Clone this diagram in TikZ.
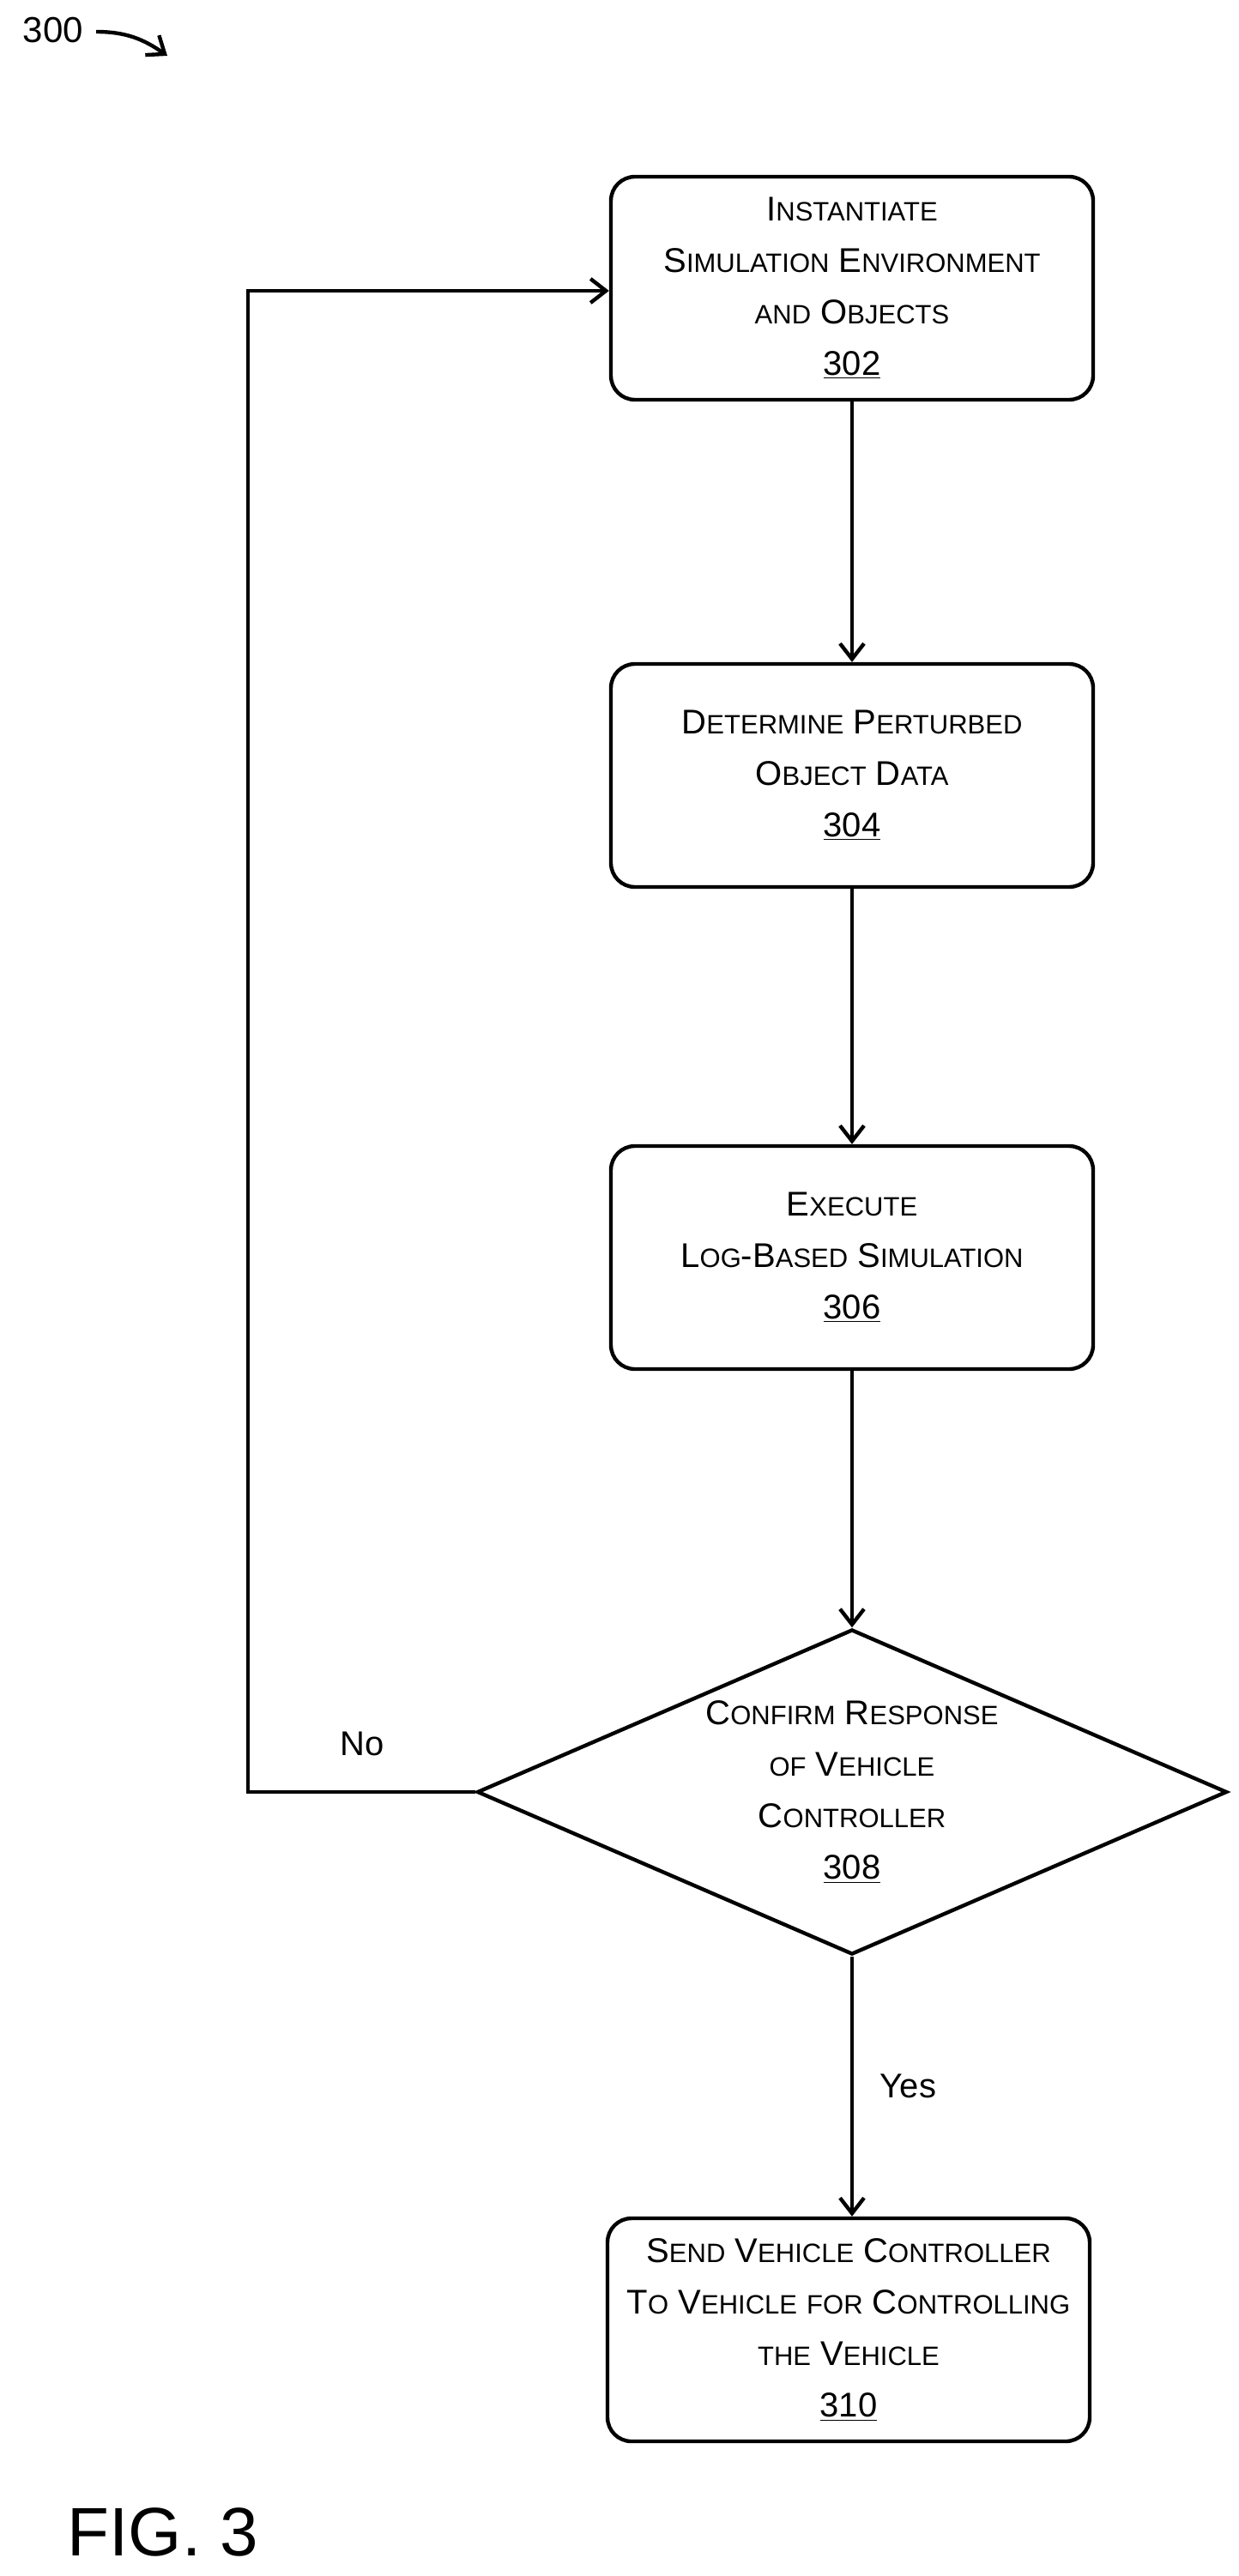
\documentclass[tikz,border=0pt]{standalone}
\usepackage{fontspec}
\setmainfont{Liberation Sans}
\usetikzlibrary{shapes.geometric,arrows.meta}
\newcommand\capw[2]{{\fontsize{20}{30}\selectfont #1}{\fontsize{15.5}{30}\selectfont\MakeUppercase{#2}}}
\tikzset{
  stepbox/.style={draw,line width=2.2pt,rounded corners=14pt,minimum width=281pt,minimum height=130pt,align=center,font=\fontsize{20}{30}\selectfont},
  decide/.style={draw,diamond,line width=2.2pt,minimum width=437pt,minimum height=189.5pt,inner sep=0pt},
  flow/.style={line width=2.2pt,-{Straight Barb[length=9pt,width=14pt]}}
}
\begin{document}
\begin{tikzpicture}[x=1pt,y=-1pt]
\useasboundingbox (0,0) rectangle (722,1501.5);
\node[font=\fontsize{21}{22}\selectfont] (num) at (31,17.5) {300};
\coordinate (numtip) at (97.5,32.5);
\draw[flow] (num.east) ++(4,1) to[out=0,in=145] (numtip);
\node[stepbox] (s302) at (496.5,168) {\capw{I}{nstantiate}\\ \capw{S}{imulation} \capw{E}{nvironment}\\ \capw{}{and} \capw{O}{bjects}\\ \underline{302}};
\node[stepbox] (s304) at (496.5,452) {\capw{D}{etermine} \capw{P}{erturbed}\\ \capw{O}{bject} \capw{D}{ata}\\ \underline{304}};
\node[stepbox] (s306) at (496.5,733) {\capw{E}{xecute}\\ \capw{L}{og}-\capw{B}{ased} \capw{S}{imulation}\\ \underline{306}};
\node[decide] (d308) at (496.5,1044.5) {};
\node[align=center,font=\fontsize{20}{30}\selectfont] (t308) at (d308) {\capw{C}{onfirm} \capw{R}{esponse}\\ \capw{}{of} \capw{V}{ehicle}\\ \capw{C}{ontroller}\\ \underline{308}};
\node[stepbox] (s310) at (494.5,1358) {\capw{S}{end} \capw{V}{ehicle} \capw{C}{ontroller}\\ \capw{T}{o} \capw{V}{ehicle} \capw{}{for} \capw{C}{ontrolling}\\ \capw{}{the} \capw{V}{ehicle}\\ \underline{310}};
\draw[flow] (s302) -- (s304);
\draw[flow] (s304) -- (s306);
\draw[flow] (s306) -- (d308);
\draw[flow] (d308.south) -- node[right=12pt,font=\fontsize{20}{22}\selectfont] (yes) {Yes} (s310.north -| d308.south);
\coordinate (loop) at (144.5,169.5);
\draw[flow] (d308.west) -| (loop) -- (loop -| s302.west);
\node[font=\fontsize{20}{22}\selectfont] (no) at (211,1016.5) {No};
\node[font=\fontsize{40}{44}\selectfont] (fig) at (95,1476) {FIG. 3};
\end{tikzpicture}
\end{document}
